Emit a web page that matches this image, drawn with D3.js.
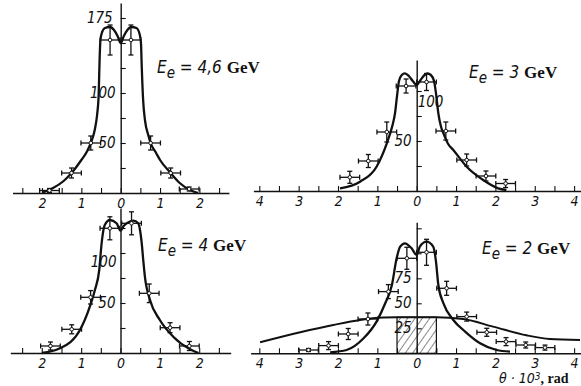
<html>
<head>
<title>Angular distributions</title>
<script src="https://d3js.org/d3.v7.min.js"></script>
<style>
body { margin: 0; background: #fff; }
text { fill: #111; }
</style>
</head>
<body>
<script>
// ---- data (theta * 10^3 rad, counts) ----
// E_e = 4.6 GeV
var e46PtX = [-1.81, -1.25, -0.76, -0.27, 0.26, 0.76, 1.27, 1.74];
var e46PtY = [2.5, 20, 50, 153, 153, 50, 20, 4];
var e46Err = [2, 5, 7, 15, 15, 7, 5, 2];
var e46CurveX = [-1.98, -1.72, -1.45, -1.25, -1.0, -0.85, -0.75, -0.66, -0.6, -0.56, -0.535, -0.515, -0.48, -0.4, -0.27, -0.17, -0.08, 0, 0.08, 0.17, 0.27, 0.4, 0.48, 0.515, 0.535, 0.57, 0.62, 0.7, 0.76, 0.9, 1.0, 1.27, 1.5, 1.76, 1.97];
var e46CurveY = [0.5, 5, 12, 20, 33, 42, 51, 63, 78, 98, 135, 153, 160, 165, 166, 163, 157, 150, 157, 163, 166, 165, 159, 150, 126, 93, 72, 58, 50, 40, 33, 20, 10, 3, 0];

// E_e = 3 GeV
var e3PtX = [-1.7, -1.23, -0.76, -0.27, 0.25, 0.74, 1.27, 1.76, 2.26];
var e3PtY = [13.7, 30, 59, 105, 109, 60, 31, 15, 7.5];
var e3Err = [6, 6.5, 10, 7, 8.5, 9, 6, 5, 4];
var e3CurveX = [-1.95, -1.44, -1.02, -0.76, -0.62, -0.55, -0.5, -0.45, -0.38, -0.3, -0.2, -0.1, 0, 0.1, 0.2, 0.27, 0.36, 0.44, 0.49, 0.55, 0.62, 0.68, 0.8, 0.93, 1.27, 1.69, 2.07, 2.28];
var e3CurveY = [2.7, 9.3, 24.3, 47.7, 65, 78, 95, 110, 116, 117.7, 115, 110, 106, 111, 116, 117.5, 116, 110, 97.7, 77.7, 64, 57.7, 47, 41, 24.3, 11, 2.7, 1];

// E_e = 4 GeV
var e4PtX = [-1.78, -1.24, -0.76, -0.27, 0.28, 0.73, 1.26, 1.75];
var e4PtY = [7, 23.7, 55.7, 124.7, 129.7, 59.7, 25.3, 7];
var e4Err = [4, 4.5, 6.7, 11.5, 11.5, 9.3, 5, 4.5];
var e4CurveX = [-2.0, -1.54, -1.03, -0.78, -0.65, -0.54, -0.48, -0.4, -0.27, -0.1, 0, 0.08, 0.16, 0.33, 0.45, 0.5, 0.54, 0.58, 0.62, 0.75, 1.0, 1.34, 1.77, 1.98];
var e4CurveY = [0, 4.7, 23, 46.3, 63, 83, 109.7, 128, 133, 129.7, 122.3, 127, 129.7, 132.3, 129.7, 122, 109.7, 92, 76.3, 53, 33, 16.3, 3.7, 0];

// E_e = 2 GeV
var e2PtX = [-2.75, -2.24, -1.74, -1.24, -0.72, -0.25, 0.25, 0.76, 1.27, 1.78, 2.27, 2.77, 3.26];
var e2PtY = [3.3, 7.7, 19.3, 34.3, 61.7, 95, 101, 65, 36.7, 21, 11.7, 8.3, 5.7];
var e2Err = [1.5, 4, 5.5, 6, 7, 11, 13, 7, 4.5, 4, 4, 3, 2.5];
var e2CurveX = [-2.2, -1.78, -1.35, -1.02, -0.8, -0.63, -0.51, -0.42, -0.3, -0.13, 0, 0.08, 0.25, 0.42, 0.49, 0.55, 0.68, 0.93, 1.23, 1.61, 2.03, 2.37];
var e2CurveY = [1, 3.3, 15, 31.7, 50, 68.3, 95, 106.7, 110, 105, 98.3, 106.7, 111.7, 106.7, 91.7, 68.3, 50, 33.3, 21.7, 10, 3.3, 1.7];
var e2BroadX = [-3.98, -2.96, -2.12, -1.44, -0.85, -0.5, 0, 0.5, 1.18, 1.94, 2.79, 3.38, 4.15];
var e2BroadY = [11, 21, 28.3, 33.3, 35.7, 36, 36, 36, 34.3, 26.7, 18, 14.3, 13.3];
var e2HistX = [-0.5, 0.5];
var e2HistY = [36];

var energyLabels = ["4,6", "3", "4", "2"];
var e46YLabels = [175, 100, 50];
var e3YLabels = [100, 50];
var e4YLabels = [100, 50];
var e2YLabels = [75, 50, 25];
var xBinHalf = 0.25;

// ---- layout ----
var width = 581, height = 386;
var unit = 39.35;

var panels = [
  { cx: 120.7, y0: 193, xDom: [-2.75, 2.75], tickLim: 2.5, yTop: 190, yTicks: [25, 50, 75, 100, 125, 150, 175],
    ptX: e46PtX, ptY: e46PtY, err: e46Err, cX: e46CurveX, cY: e46CurveY,
    yLabels: e46YLabels, yLabelShift: { 175: [-3, 0] }, label: energyLabels[0], lx: 157, ly: 73 },
  { cx: 416.7, y0: 191, xDom: [-4.15, 4.2], tickLim: 4, yTop: 131, yTicks: [25, 50, 75, 100],
    ptX: e3PtX, ptY: e3PtY, err: e3Err, cX: e3CurveX, cY: e3CurveY,
    yLabels: e3YLabels, yLabelShift: { 100: ["right", 11] }, label: energyLabels[1], lx: 469, ly: 78 },
  { cx: 120.5, y0: 353, xDom: [-2.8, 2.8], tickLim: 2.5, yTop: 145, yTicks: [25, 50, 75, 100, 125],
    ptX: e4PtX, ptY: e4PtY, err: e4Err, cX: e4CurveX, cY: e4CurveY,
    yLabels: e4YLabels, yLabelShift: { 100: [1, 9] }, label: energyLabels[2], lx: 158, ly: 251 },
  { cx: 416.7, y0: 353.3, xDom: [-4.22, 4.2], tickLim: 4, yTop: 131, yTicks: [25, 50, 75, 100, 125],
    ptX: e2PtX, ptY: e2PtY, err: e2Err, cX: e2CurveX, cY: e2CurveY,
    yLabels: e2YLabels, yLabelShift: {}, label: energyLabels[3], lx: 482, ly: 254,
    broadX: e2BroadX, broadY: e2BroadY, histX: e2HistX, histY: e2HistY }
];

var numFont = "'Liberation Sans Narrow', 'DejaVu Sans Condensed', 'Liberation Sans', sans-serif";
var serifFont = "'Liberation Serif', 'DejaVu Serif', serif";

var svg = d3.select('body').append('svg')
  .attr('width', width)
  .attr('height', height);

svg.append('rect').attr('width', width).attr('height', height).attr('fill', '#fff');

// hatch pattern for the histogram box
var pat = svg.append('defs').append('pattern')
  .attr('id', 'hatch')
  .attr('patternUnits', 'userSpaceOnUse')
  .attr('width', 6).attr('height', 6)
  .attr('patternTransform', 'rotate(35)');
pat.append('line')
  .attr('x1', 0).attr('y1', 0).attr('x2', 0).attr('y2', 6)
  .attr('stroke', '#111').attr('stroke-width', 1);

panels.forEach(function(p) {
  var x = d3.scaleLinear()
    .domain(p.xDom)
    .range([p.cx + p.xDom[0] * unit, p.cx + p.xDom[1] * unit]);
  var y = d3.scaleLinear()
    .domain([0, p.yTop])
    .range([p.y0, p.y0 - p.yTop]);

  var g = svg.append('g');

  // hatched box (2 GeV only)
  if (p.histX) {
    g.append('rect')
      .attr('x', x(p.histX[0]))
      .attr('y', y(p.histY[0]))
      .attr('width', x(p.histX[1]) - x(p.histX[0]))
      .attr('height', y(0) - y(p.histY[0]))
      .attr('fill', 'url(#hatch)')
      .attr('stroke', '#111')
      .attr('stroke-width', 1.2);
  }

  // x axis: ticks every 0.5 pointing up, labels at integers
  var xTicks = d3.range(-p.tickLim, p.tickLim + 0.01, 0.5);
  var xAxis = d3.axisBottom(x)
    .tickValues(xTicks)
    .tickSizeInner(-5)
    .tickSizeOuter(0)
    .tickPadding(5)
    .tickFormat(function(d) { return d % 1 === 0 ? Math.abs(d) : ''; });
  var xg = g.append('g')
    .attr('transform', 'translate(0,' + p.y0 + ')')
    .call(xAxis);
  xg.select('.domain').attr('stroke', '#111').attr('stroke-width', 1.4);
  xg.selectAll('.tick line').attr('stroke', '#111').attr('stroke-width', 1.1);
  xg.selectAll('.tick text')
    .attr('font-family', numFont)
    .attr('font-style', 'italic')
    .attr('font-size', 14)
    .attr('fill', '#111');

  // y axis: ticks to the right, labels drawn by hand
  var yAxis = d3.axisRight(y)
    .tickValues(p.yTicks)
    .tickSizeInner(5)
    .tickSizeOuter(0)
    .tickFormat('');
  var yg = g.append('g')
    .attr('transform', 'translate(' + p.cx + ',0)')
    .call(yAxis);
  yg.select('.domain').attr('stroke', '#111').attr('stroke-width', 1.4);
  yg.selectAll('.tick line').attr('stroke', '#111').attr('stroke-width', 1.1);

  p.yLabels.forEach(function(v) {
    var s = p.yLabelShift[v];
    var t = g.append('text')
      .attr('font-family', numFont)
      .attr('font-style', 'italic')
      .attr('font-size', 15)
      .text(v);
    if (s && s[0] === 'right') {
      t.attr('x', p.cx + 1).attr('y', y(v) + 5 + s[1]).attr('text-anchor', 'start');
    } else {
      var dx = s ? s[0] : 0, dy = s ? s[1] : 0;
      t.attr('x', p.cx - 5 + dx).attr('y', y(v) + 5 + dy).attr('text-anchor', 'end');
    }
  });

  // curves
  var line = d3.line()
    .x(function(d) { return x(d[0]); })
    .y(function(d) { return y(d[1]); })
    .curve(d3.curveMonotoneX);

  if (p.broadX) {
    g.append('path')
      .datum(p.broadX.map(function(v, i) { return [v, p.broadY[i]]; }))
      .attr('d', line)
      .attr('fill', 'none')
      .attr('stroke', '#111')
      .attr('stroke-width', 2);
  }

  g.append('path')
    .datum(p.cX.map(function(v, i) { return [v, p.cY[i]]; }))
    .attr('d', line)
    .attr('fill', 'none')
    .attr('stroke', '#111')
    .attr('stroke-width', 2.3);

  // data points with error bars
  var pts = p.ptX.map(function(v, i) { return { x: v, y: p.ptY[i], e: p.err[i] }; });
  var pg = g.selectAll('g.pt')
    .data(pts)
    .enter()
      .append('g')
        .attr('class', 'pt')
        .attr('stroke', '#111')
        .attr('stroke-width', 1.3);

  // horizontal bar
  pg.append('line')
    .attr('x1', function(d) { return x(d.x - xBinHalf); })
    .attr('x2', function(d) { return x(d.x + xBinHalf); })
    .attr('y1', function(d) { return y(d.y); })
    .attr('y2', function(d) { return y(d.y); });
  pg.append('line')
    .attr('x1', function(d) { return x(d.x - xBinHalf); })
    .attr('x2', function(d) { return x(d.x - xBinHalf); })
    .attr('y1', function(d) { return y(d.y) - 2.5; })
    .attr('y2', function(d) { return y(d.y) + 2.5; });
  pg.append('line')
    .attr('x1', function(d) { return x(d.x + xBinHalf); })
    .attr('x2', function(d) { return x(d.x + xBinHalf); })
    .attr('y1', function(d) { return y(d.y) - 2.5; })
    .attr('y2', function(d) { return y(d.y) + 2.5; });
  // vertical bar
  pg.append('line')
    .attr('x1', function(d) { return x(d.x); })
    .attr('x2', function(d) { return x(d.x); })
    .attr('y1', function(d) { return y(d.y + d.e); })
    .attr('y2', function(d) { return y(Math.max(d.y - d.e, 0)); });
  pg.append('line')
    .attr('x1', function(d) { return x(d.x) - 2.5; })
    .attr('x2', function(d) { return x(d.x) + 2.5; })
    .attr('y1', function(d) { return y(d.y + d.e); })
    .attr('y2', function(d) { return y(d.y + d.e); });
  pg.append('line')
    .attr('x1', function(d) { return x(d.x) - 2.5; })
    .attr('x2', function(d) { return x(d.x) + 2.5; })
    .attr('y1', function(d) { return y(Math.max(d.y - d.e, 0)); })
    .attr('y2', function(d) { return y(Math.max(d.y - d.e, 0)); });
  pg.append('circle')
    .attr('cx', function(d) { return x(d.x); })
    .attr('cy', function(d) { return y(d.y); })
    .attr('r', 1.8)
    .attr('fill', '#fff')
    .attr('stroke-width', 1);

  // energy label
  var lt = g.append('text')
    .attr('x', p.lx)
    .attr('y', p.ly)
    .attr('font-family', numFont)
    .attr('font-style', 'italic')
    .attr('font-size', 17);
  lt.append('tspan').text('E');
  lt.append('tspan').attr('dy', 5).attr('font-size', 15).text('e');
  lt.append('tspan').attr('dy', -5).text(' = ' + p.label + ' ');
  lt.append('tspan')
    .attr('font-family', serifFont)
    .attr('font-style', 'normal')
    .attr('font-weight', 'bold')
    .attr('font-size', 17)
    .text('GeV');
});

// axis title
var at = svg.append('text')
  .attr('x', 499)
  .attr('y', 383)
  .attr('font-family', numFont)
  .attr('font-style', 'italic')
  .attr('font-size', 14);
at.append('tspan').text('\u03b8 \u00b7 10');
at.append('tspan').attr('dy', -3).attr('font-size', 10).text('3');
at.append('tspan').attr('dy', 3)
  .attr('font-family', serifFont)
  .attr('font-style', 'normal')
  .attr('font-weight', 'bold')
  .attr('font-size', 14)
  .text(', rad');
</script>
</body>
</html>
